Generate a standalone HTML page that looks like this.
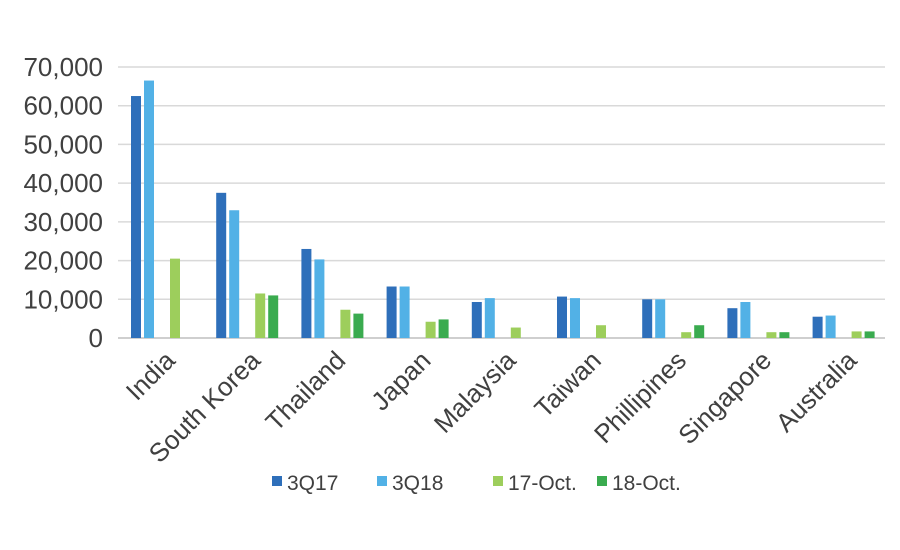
<!DOCTYPE html>
<html><head><meta charset="utf-8"><style>
body{margin:0;background:#fff;}
svg{display:block;font-family:"Liberation Sans",sans-serif;}
</style></head><body>
<svg id="chart" width="900" height="550"></svg>
<script>
const categories=["India","South Korea","Thailand","Japan","Malaysia","Taiwan","Phillipines","Singapore","Australia"];
const seriesNames=["3Q17","3Q18","17-Oct.","18-Oct."];
const s3Q17=[62500,37500,23000,13300,9300,10700,10000,7700,5500];
const s3Q18=[66500,33000,20300,13300,10300,10300,10000,9300,5800];
const sOct17=[20500,11500,7300,4200,2700,3300,1500,1500,1700];
const sOct18=[0,11000,6300,4800,0,0,3300,1500,1700];
const yTicks=[0,10000,20000,30000,40000,50000,60000,70000];
const yTickLabels=["0","10,000","20,000","30,000","40,000","50,000","60,000","70,000"];

const NS="http://www.w3.org/2000/svg";
const svg=document.getElementById("chart");
const colors=["#2e6fba","#52b1e6","#9dce5c","#3aab4f"];
const x0=118,catW=85.2,y0=338,yMax=70000,yTop=67;
const yS=v=>y0-(v/yMax)*(y0-yTop);
const xC=i=>x0+i*catW;
const offs=[13,26,52,65],bw=10;
function mk(t,a){const e=document.createElementNS(NS,t);for(const k in a)e.setAttribute(k,a[k]);svg.appendChild(e);return e;}

yTicks.forEach((v,i)=>{
  if(v>0){const g=mk("line",{x1:x0,x2:885,y1:yS(v),y2:yS(v),stroke:"#d9d9d9","stroke-width":1.5});
  
  }
  const t=mk("text",{x:103,y:yS(v)+9,"text-anchor":"end","font-size":26,fill:"#404040"});
  t.textContent=yTickLabels[i];
  
  
});
const ax=mk("line",{x1:x0,x2:885,y1:y0,y2:y0,stroke:"#bfbfbf","stroke-width":1.5});



const all=[s3Q17,s3Q18,sOct17,sOct18];
categories.forEach((c,i)=>{
  all.forEach((s,k)=>{
    const v=s[i];if(!v)return;
    const r=mk("rect",{x:xC(i)+offs[k],y:yS(v),width:bw,height:y0-yS(v),fill:colors[k]});
    
    
  });
  const cx=xC(i)+catW/2+16;
  const t=mk("text",{x:cx,y:362,"text-anchor":"end","font-size":26,fill:"#404040",transform:`rotate(-45 ${cx} 362)`});
  t.textContent=c;
  
  
});

const lx=[272,377,493,597];
seriesNames.forEach((n,k)=>{
  const r=mk("rect",{x:lx[k],y:476,width:10,height:10,fill:colors[k]});
  
  
  const t=mk("text",{x:lx[k]+15,y:490,"font-size":21,fill:"#404040"});
  t.textContent=n;
  
  
});
</script>
</body></html>
